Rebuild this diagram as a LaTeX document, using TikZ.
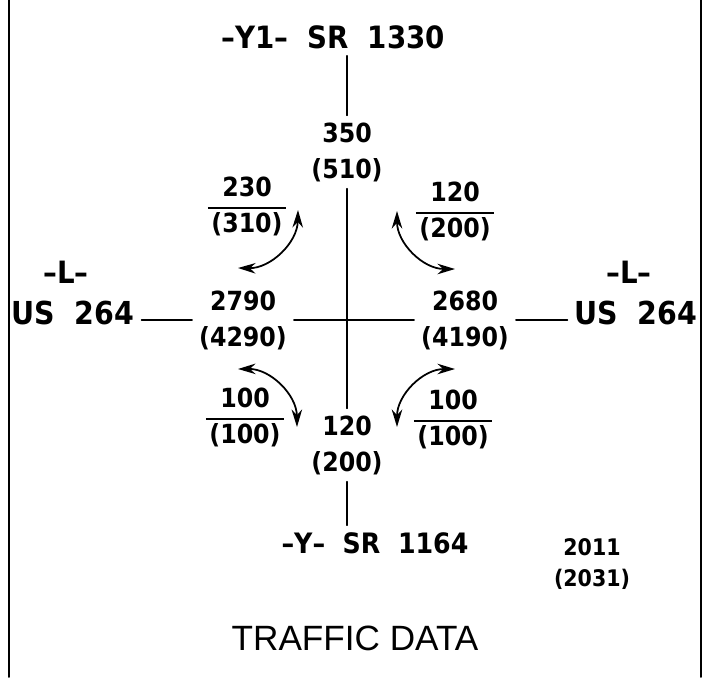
\documentclass[tikz,border=0pt]{standalone}
\usepackage{fontspec}
\usetikzlibrary{arrows.meta,positioning}
\newfontfamily\roadfont{DejaVu Sans Condensed Bold}
\newfontfamily\captionfont{Liberation Sans}
\newcommand{\turnvol}[2]{{\renewcommand{\arraystretch}{1.15}\setlength{\tabcolsep}{2pt}\setlength{\arrayrulewidth}{1pt}\begin{tabular}{c}#1\\\hline #2\end{tabular}}}
\tikzset{
	road/.style={line width=0.7pt,black},
	turn/.style={line width=1pt,black,{Stealth[length=10pt,width=6pt]}-{Stealth[length=10pt,width=6pt]}},
	vol/.style={align=center,inner sep=1pt,outer sep=3pt,font=\roadfont\fontsize{15}{20.5}\selectfont},
	route/.style={inner sep=0pt,outer sep=4pt,font=\roadfont\fontsize{17.5}{20}\selectfont},
	fracvol/.style={inner sep=0pt,font=\roadfont\fontsize{15}{17}\selectfont},
}
\begin{document}
\begin{tikzpicture}[x=0.02cm,y=-0.02cm,>=stealth,line join=round,line cap=round]
			\useasboundingbox (0,0) rectangle (720,677);
			\draw[line width=1.1pt] (9,0)--(9,677);
			\draw[line width=1.1pt] (701,0)--(701,677);
			% roads
			\node[route] (y1) at (333,37) {–Y1–\ \ SR\ \ 1330};
			\node[route,font=\roadfont\fontsize{16}{18}\selectfont] (y) at (375,543) {–Y–\ \ SR\ \ 1164};
			\node[route,font=\roadfont\fontsize{18}{20}\selectfont] (lw) at (73,313) {US\ \ 264};
			\node[route,font=\roadfont\fontsize{18}{20}\selectfont] (le) at (636,313) {US\ \ 264};
			\node[route,inner sep=0pt,outer sep=0pt,above=6pt of lw,xshift=-4pt] (lwsign) {–L–};
			\node[route,inner sep=0pt,outer sep=0pt,above=6pt of le,xshift=-4pt] (lesign) {–L–};
			\node[vol] (n) at (347,152) {350\\(510)};
			\node[vol] (s) at (347,445) {120\\(200)};
			\node[vol] (w) at (243,320) {2790\\(4290)};
			\node[vol] (e) at (465,320) {2680\\(4190)};
			\draw[road] (y1.south -| n) -- (n);
			\draw[road] (n) -- (s);
			\draw[road] (s) -- (y.north -| s);
			\draw[road] (w -| lw.east) -- (w);
			\draw[road] (w) -- (e);
			\draw[road] (e) -- (e -| le.west);
			% turning movements
			\node[fracvol] (tnw) at (247,208) {\turnvol{230}{(310)}};
			\node[fracvol] (tne) at (455,213) {\turnvol{120}{(200)}};
			\node[fracvol] (tsw) at (245,419) {\turnvol{100}{(100)}};
			\node[fracvol] (tse) at (453,421) {\turnvol{100}{(100)}};
			\coordinate (nwa) at (238,268);
			\coordinate (nwb) at (298,210);
			\coordinate (nea) at (397,211);
			\coordinate (neb) at (455,269);
			\coordinate (swa) at (238,369);
			\coordinate (swb) at (297,427);
			\coordinate (sea) at (455,369);
			\coordinate (seb) at (397,427);
			\draw[turn] (nwa) to[bend right=45] (nwb);
			\draw[turn] (nea) to[bend right=45] (neb);
			\draw[turn] (swa) to[bend left=45] (swb);
			\draw[turn] (sea) to[bend right=45] (seb);
			% years and caption
			\node[vol,font=\roadfont\fontsize{13}{17.5}\selectfont] (yr) at (592,564) {2011\\(2031)};
			\node[font=\captionfont\fontsize{20}{24}\selectfont] (cap) at (355,638) {TRAFFIC DATA};
			\end{tikzpicture}
\end{document}
